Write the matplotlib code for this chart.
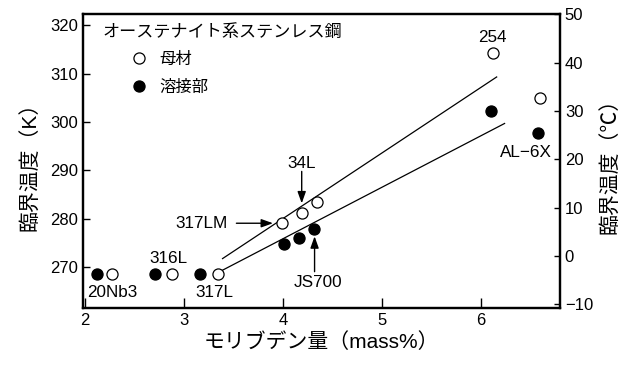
import matplotlib
matplotlib.use('Agg')
import matplotlib.pyplot as plt
from matplotlib.lines import Line2D

plt.rcParams['font.family'] = ['Liberation Sans', 'Noto Sans CJK JP']
plt.rcParams['axes.unicode_minus'] = True

# base metal (open) and weld (filled) points: Mo mass%, critical temp (K)
base_mo = [2.27, 2.88, 3.34, 3.99, 4.19, 4.34, 6.12, 6.60]
base_k = [268.7, 268.7, 268.7, 279.1, 281.3, 283.4, 314.2, 304.9]
weld_mo = [2.12, 2.71, 3.16, 4.01, 4.16, 4.31, 6.10, 6.58]
weld_k = [268.7, 268.7, 268.7, 274.8, 276.1, 277.9, 302.3, 297.7]

# trend lines drawn in the figure
upper_mo = [3.39, 6.16]
upper_k = [271.8, 309.3]
lower_mo = [3.38, 6.24]
lower_k = [269.3, 299.7]

# grade labels: text, x, y, alignment
grade_labels = [
    ('20Nb3', 2.28, 264.7, 'center'),
    ('316L', 2.84, 271.9, 'center'),
    ('317L', 3.31, 264.7, 'center'),
    ('317LM', 3.44, 279.1, 'right'),
    ('34L', 4.19, 291.5, 'center'),
    ('JS700', 4.35, 266.9, 'center'),
    ('254', 6.12, 317.4, 'center'),
    ('AL\u22126X', 6.46, 293.7, 'center'),
]
# arrows: (tip), (tail)
arrows = [
    ((3.90, 279.1), (3.53, 279.1)),
    ((4.19, 283.2), (4.19, 289.8)),
    ((4.32, 276.4), (4.32, 269.1)),
]

fig = plt.figure(figsize=(6.2, 3.65), dpi=100)
ax = fig.add_axes([83 / 620, 57 / 365, 477 / 620, 294 / 365])
ax2 = ax.twinx()

ax.plot(upper_mo, upper_k, color='black', lw=0.9)
ax.plot(lower_mo, lower_k, color='black', lw=0.9)
ax.plot(base_mo, base_k, 'o', ms=8, mfc='white', mec='black', mew=0.9, ls='none', zorder=3)
ax.plot(weld_mo, weld_k, 'o', ms=8, mfc='black', mec='black', mew=0.9, ls='none', zorder=3)

for txt, x, y, ha in grade_labels:
    ax.text(x, y, txt, ha=ha, va='center', fontsize=12.3)
for tip, tail in arrows:
    ax.annotate('', xy=tip, xytext=tail,
                arrowprops=dict(arrowstyle='-|>,head_length=0.7,head_width=0.25',
                                color='black', lw=1, shrinkA=0, shrinkB=0))

ax.set_xlim(1.98, 6.8)
ax.set_ylim(261.6, 322.3)
ax.set_xticks([2, 3, 4, 5, 6])
ax.set_yticks([270, 280, 290, 300, 310, 320])
ax2.set_ylim(-10.8, 50.1)
ax2.set_yticks([-10, 0, 10, 20, 30, 40, 50])

for a in (ax, ax2):
    for s in a.spines.values():
        s.set_linewidth(1.6)
ax.tick_params(axis='both', direction='in', labelsize=12, width=1, length=5, top=False, right=False)
ax.tick_params(axis='x', length=7)
ax2.tick_params(axis='y', direction='in', labelsize=12, width=1, length=4)

ax.set_xlabel('モリブデン量（mass%）', fontsize=15, labelpad=3)
ax.set_ylabel('臨界温度（K）', fontsize=15, labelpad=7)
ax2.set_ylabel('臨界温度（℃）', fontsize=15, labelpad=5)

ax.text(20 / 477, 1 - 18 / 294, 'オーステナイト系ステンレス鋼', transform=ax.transAxes,
        fontsize=12.3, ha='left', va='center')
handles = [
    Line2D([], [], marker='o', ms=8, mfc='white', mec='black', mew=0.9, ls='none'),
    Line2D([], [], marker='o', ms=8, mfc='black', mec='black', mew=0.9, ls='none'),
]
ax.legend(handles, ['母材', '溶接部'], loc='upper left', bbox_to_anchor=(48 / 477, 1 - 38 / 294),
          frameon=False, fontsize=11.8, handlelength=1, handletextpad=0.75,
          borderpad=0, borderaxespad=0, labelspacing=0.8)

fig.savefig('out.png', dpi=100)
